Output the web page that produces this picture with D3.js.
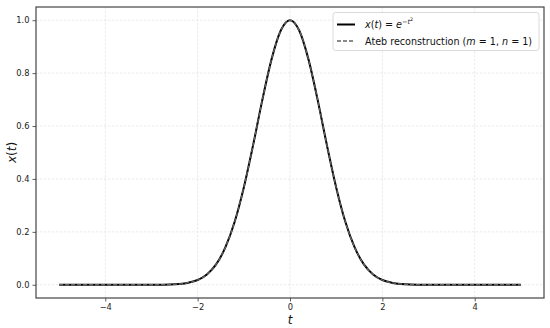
<!DOCTYPE html>
<html>
<head>
<meta charset="utf-8">
<script src="https://cdn.jsdelivr.net/npm/d3@7"></script>
<style>
body{margin:0;background:#fff;}
svg{display:block;font-family:"DejaVu Sans",sans-serif;}
</style>
</head>
<body>
<svg id="chart" width="550" height="328"></svg>
<script>
const tValues = [-5,-4.5,-4,-3.5,-3,-2.8,-2.6,-2.4,-2.2,-2,-1.8,-1.6,-1.4,-1.2,-1,-0.8,-0.6,-0.4,-0.2,0,0.2,0.4,0.6,0.8,1,1.2,1.4,1.6,1.8,2,2.2,2.4,2.6,2.8,3,3.5,4,4.5,5];
const exactValues = [0,0,0,0,0.0001,0.0004,0.001,0.003,0.008,0.018,0.039,0.077,0.141,0.237,0.368,0.527,0.698,0.852,0.961,1,0.961,0.852,0.698,0.527,0.368,0.237,0.141,0.077,0.039,0.018,0.008,0.003,0.001,0.0004,0.0001,0,0,0,0];
const atebValues = [0,0,0,0,0.0001,0.0004,0.001,0.003,0.008,0.018,0.039,0.077,0.141,0.237,0.368,0.527,0.698,0.852,0.961,1,0.961,0.852,0.698,0.527,0.368,0.237,0.141,0.077,0.039,0.018,0.008,0.003,0.001,0.0004,0.0001,0,0,0,0];
const xTicks = [-4,-2,0,2,4];
const yTicks = [0,0.2,0.4,0.6,0.8,1.0];

const svg = d3.select("#chart");
const m = {left:36, right:544, top:7, bottom:298};
const x = d3.scaleLinear().domain([-5.5,5.5]).range([m.left,m.right]);
const y = d3.scaleLinear().domain([-0.05,1.05]).range([m.bottom,m.top]);

// grid
const g = svg.append("g");
g.selectAll(".gx").data(xTicks).enter().append("line")
  .attr("x1",d=>x(d)).attr("x2",d=>x(d)).attr("y1",m.top).attr("y2",m.bottom)
  .attr("stroke","#e6e6e6").attr("stroke-width",0.8).attr("stroke-dasharray","2.5,1.5");
g.selectAll(".gy").data(yTicks).enter().append("line")
  .attr("x1",m.left).attr("x2",m.right).attr("y1",d=>y(d)).attr("y2",d=>y(d))
  .attr("stroke","#e6e6e6").attr("stroke-width",0.8).attr("stroke-dasharray","2.5,1.5");

// axes
const fmtX = d => d < 0 ? "\u2212" + Math.abs(d) : String(d);
const xAxis = svg.append("g").attr("transform",`translate(0,${m.bottom})`)
  .call(d3.axisBottom(x).tickValues(xTicks).tickFormat(fmtX).tickSize(3.5).tickPadding(2.5));
const yAxis = svg.append("g").attr("transform",`translate(${m.left},0)`)
  .call(d3.axisLeft(y).tickValues(yTicks).tickFormat(d3.format(".1f")).tickSize(3.5).tickPadding(3));
[xAxis,yAxis].forEach(a=>{
  a.select(".domain").remove();
  a.selectAll("line").attr("stroke","#333").attr("stroke-width",0.8);
  a.selectAll("text").attr("font-size",8.3).attr("fill","#222").attr("font-family","DejaVu Sans");
});

// lines
const data1 = tValues.map((t,i)=>[t,exactValues[i]]);
const data2 = tValues.map((t,i)=>[t,atebValues[i]]);
const line = d3.line().x(d=>x(d[0])).y(d=>y(d[1])).curve(d3.curveMonotoneX);
svg.append("path").attr("d",line(data1)).attr("fill","none").attr("stroke","#000").attr("stroke-width",2);
svg.append("path").attr("d",line(data2)).attr("fill","none").attr("stroke","#666").attr("stroke-width",1.3).attr("stroke-dasharray","4,2");

// frame
svg.append("rect").attr("x",m.left).attr("y",m.top).attr("width",m.right-m.left).attr("height",m.bottom-m.top)
  .attr("fill","none").attr("stroke","#444").attr("stroke-width",1.2);

// axis labels
svg.append("text").attr("x",(m.left+m.right)/2).attr("y",323.5).attr("text-anchor","middle")
  .attr("font-size",12).attr("font-style","italic").attr("fill","#111").text("t");
const yl = svg.append("text").attr("transform",`translate(16,${(m.top+m.bottom)/2}) rotate(-90)`)
  .attr("text-anchor","middle").attr("font-size",12).attr("fill","#111");
yl.append("tspan").attr("font-style","italic").text("x");
yl.append("tspan").text("(");
yl.append("tspan").attr("font-style","italic").text("t");
yl.append("tspan").text(")");

// legend
const lg = svg.append("g");
lg.append("rect").attr("x",333).attr("y",12.5).attr("width",206).attr("height",38).attr("rx",2.5)
  .attr("fill","#fff").attr("fill-opacity",0.85).attr("stroke","#d0d0d0").attr("stroke-width",0.8);
lg.append("line").attr("x1",337).attr("x2",355).attr("y1",24.5).attr("y2",24.5).attr("stroke","#000").attr("stroke-width",2);
lg.append("line").attr("x1",337).attr("x2",355).attr("y1",41).attr("y2",41).attr("stroke","#666").attr("stroke-width",1.3).attr("stroke-dasharray","4,2");
const t1 = lg.append("text").attr("x",365).attr("y",28).attr("font-size",9.6).attr("fill","#111");
t1.append("tspan").attr("font-style","italic").text("x");
t1.append("tspan").text("(");
t1.append("tspan").attr("font-style","italic").text("t");
t1.append("tspan").text(") = ");
t1.append("tspan").attr("font-style","italic").text("e");
t1.append("tspan").attr("font-size",6.5).attr("dy",-4.5).text("\u2212");
t1.append("tspan").attr("font-size",6.5).attr("font-style","italic").text("t");
t1.append("tspan").attr("font-size",4.8).attr("dy",-2.5).text("2");
const t2 = lg.append("text").attr("x",365).attr("y",44.5).attr("font-size",9.6).attr("fill","#111");
t2.append("tspan").text("Ateb reconstruction (");
t2.append("tspan").attr("font-style","italic").text("m");
t2.append("tspan").text(" = 1, ");
t2.append("tspan").attr("font-style","italic").text("n");
t2.append("tspan").text(" = 1)");
</script>
</body>
</html>
